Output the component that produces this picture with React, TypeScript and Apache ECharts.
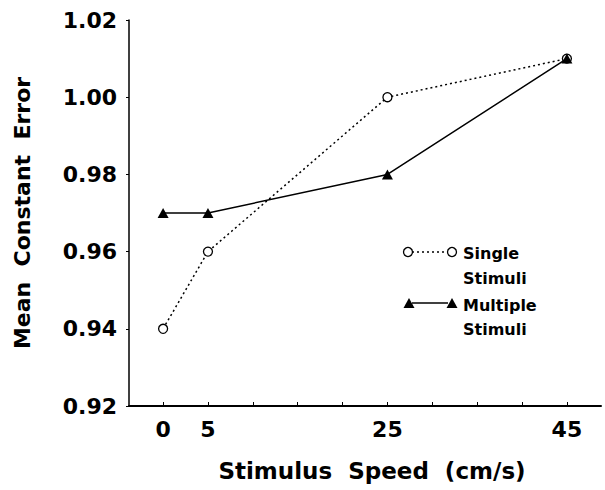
import React, { useEffect, useRef } from "react";
import * as echarts from "echarts";

const speeds = [0, 5, 25, 45];
const singleStimuli = [0.94, 0.96, 1.0, 1.01];
const multipleStimuli = [0.97, 0.97, 0.98, 1.01];
const xTickValues = [0, 5, 10, 15, 20, 25, 30, 35, 40, 45];
const xLabelValues = [0, 5, 25, 45];
const xTitle = "Stimulus  Speed  (cm/s)";
const yTitle = "Mean  Constant  Error";
const legendSingle = ["Single", "Stimuli"];
const legendMultiple = ["Multiple", "Stimuli"];

const FONT = "DejaVu Sans";

export default function App() {
  const ref = useRef<HTMLDivElement>(null);
  useEffect(() => {
    if (!ref.current) return;
    const chart = echarts.init(ref.current, undefined, { renderer: "svg" });
    const textStyle = { fontFamily: FONT, fontWeight: "bold" as const, fill: "#000", fontSize: 16 };
    chart.setOption({
      animation: false,
      backgroundColor: "#fff",
      grid: { left: 129, right: 4, top: 20, bottom: 84, containLabel: false },
      xAxis: {
        type: "value",
        min: -3.8,
        max: 48.8,
        name: xTitle,
        nameLocation: "middle",
        nameGap: 53,
        nameTextStyle: { fontFamily: FONT, fontWeight: "bold", fontSize: 23, color: "#000", padding: [0, 0, 0, 14] },
        splitLine: { show: false },
        axisLine: { show: true, onZero: false, lineStyle: { color: "#000", width: 2 } },
        axisTick: { show: true, inside: true, length: 4, customValues: xTickValues, lineStyle: { color: "#000", width: 1 } },
        axisLabel: {
          customValues: xLabelValues,
          margin: 12,
          fontFamily: FONT,
          fontWeight: "bold",
          fontSize: 22,
          color: "#000",
        },
      },
      yAxis: {
        type: "value",
        min: 0.92,
        max: 1.02,
        interval: 0.02,
        name: yTitle,
        nameLocation: "middle",
        nameGap: 96,
        nameTextStyle: { fontFamily: FONT, fontWeight: "bold", fontSize: 22, color: "#000" },
        splitLine: { show: false },
        axisLine: { show: true, onZero: false, lineStyle: { color: "#000", width: 1.5 } },
        axisTick: { show: true, length: 3, lineStyle: { color: "#000", width: 1 } },
        axisLabel: {
          margin: 12,
          fontFamily: FONT,
          fontWeight: "bold",
          fontSize: 22,
          color: "#000",
          formatter: (v: number) => v.toFixed(2),
        },
      },
      series: [
        {
          name: "Single Stimuli",
          type: "line",
          data: speeds.map((s, i) => [s, singleStimuli[i]]),
          symbol: "circle",
          symbolSize: 9,
          itemStyle: { color: "#fff", borderColor: "#000", borderWidth: 1.3 },
          lineStyle: { color: "#000", width: 1.5, type: [2, 3] },
          z: 2,
        },
        {
          name: "Multiple Stimuli",
          type: "line",
          data: speeds.map((s, i) => [s, multipleStimuli[i]]),
          symbol: "triangle",
          symbolSize: [11, 10],
          itemStyle: { color: "#000", borderWidth: 0 },
          lineStyle: { color: "#000", width: 1.5 },
          z: 3,
        },
      ],
      graphic: [
        { type: "line", shape: { x1: 412, y1: 252, x2: 448, y2: 252 }, style: { stroke: "#000", lineWidth: 1.5, lineDash: [2, 3] } },
        { type: "circle", shape: { cx: 408, cy: 252, r: 4.5 }, style: { fill: "#fff", stroke: "#000", lineWidth: 1.3 } },
        { type: "circle", shape: { cx: 452, cy: 252, r: 4.5 }, style: { fill: "#fff", stroke: "#000", lineWidth: 1.3 } },
        { type: "text", x: 463, y: 253, style: { ...textStyle, text: legendSingle[0], verticalAlign: "middle" } },
        { type: "text", x: 463, y: 278, style: { ...textStyle, text: legendSingle[1], verticalAlign: "middle" } },
        { type: "line", shape: { x1: 412, y1: 303, x2: 448, y2: 303 }, style: { stroke: "#000", lineWidth: 1.5 } },
        { type: "polygon", shape: { points: [[409, 298], [414.5, 308], [403.5, 308]] }, style: { fill: "#000" } },
        { type: "polygon", shape: { points: [[452, 298], [457.5, 308], [446.5, 308]] }, style: { fill: "#000" } },
        { type: "text", x: 463, y: 305, style: { ...textStyle, text: legendMultiple[0], verticalAlign: "middle" } },
        { type: "text", x: 463, y: 329, style: { ...textStyle, text: legendMultiple[1], verticalAlign: "middle" } },
      ],
    });
    return () => chart.dispose();
  }, []);
  return <div ref={ref} style={{ width: 605, height: 490, position: "absolute", left: 0, top: 0 }} />;
}
